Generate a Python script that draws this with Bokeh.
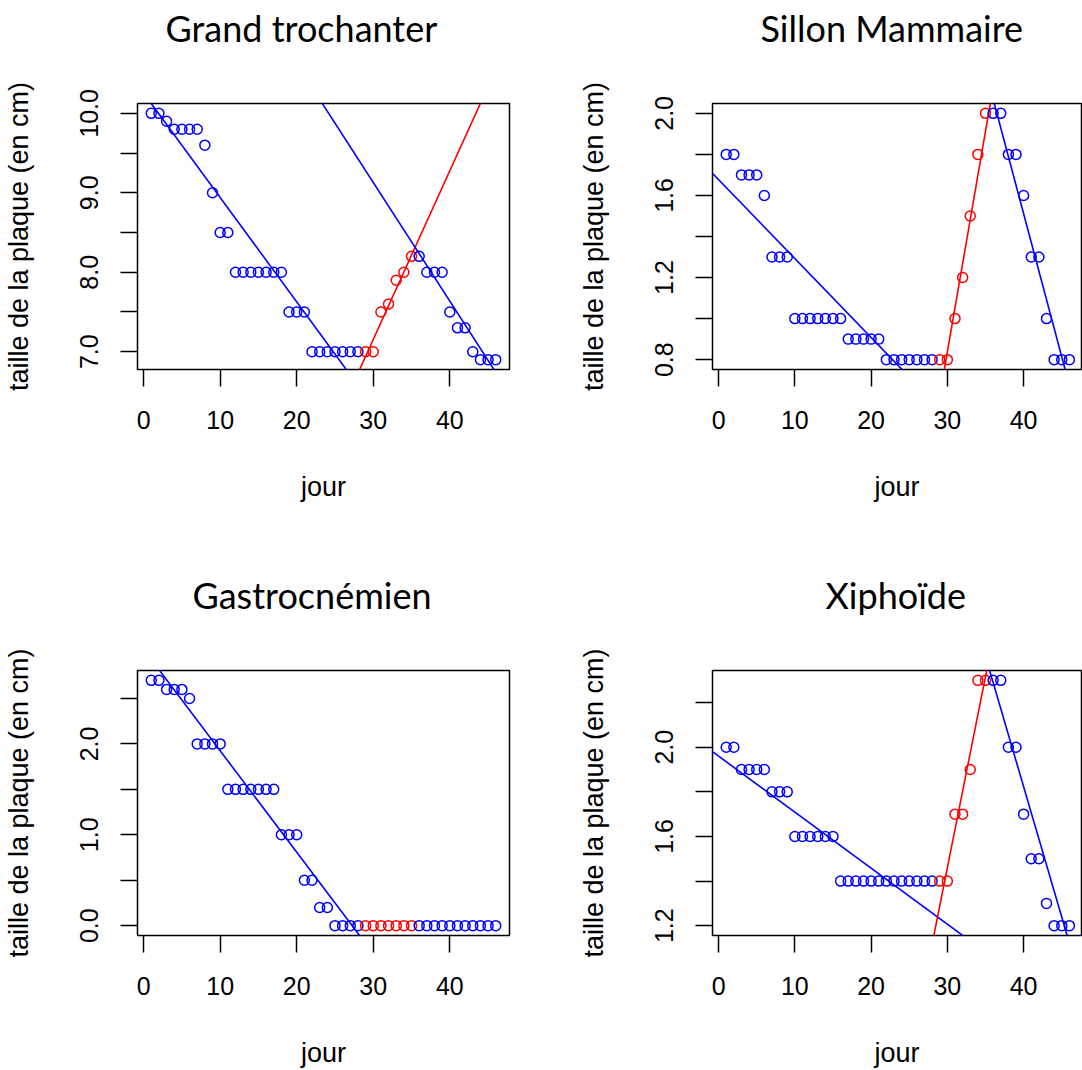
from bokeh.plotting import figure
from bokeh.models import Range1d, FixedTicker, PrintfTickFormatter, Title, ColumnDataSource
from bokeh.layouts import column, row
from bokeh.embed import file_html
from bokeh.resources import INLINE

# ---------------- data ----------------
jour = list(range(1, 47))
rouge_debut = 29
rouge_fin = 35

grand_trochanter = [10.0, 10.0, 9.9, 9.8, 9.8, 9.8, 9.8, 9.6, 9.0, 8.5, 8.5,
                    8.0, 8.0, 8.0, 8.0, 8.0, 8.0, 8.0, 7.5, 7.5, 7.5,
                    7.0, 7.0, 7.0, 7.0, 7.0, 7.0, 7.0,
                    7.0, 7.0, 7.5, 7.6, 7.9, 8.0, 8.2,
                    8.2, 8.0, 8.0, 8.0, 7.5, 7.3, 7.3, 7.0, 6.9, 6.9, 6.9]
sillon_mammaire = [1.8, 1.8, 1.7, 1.7, 1.7, 1.6, 1.3, 1.3, 1.3,
                   1.0, 1.0, 1.0, 1.0, 1.0, 1.0, 1.0,
                   0.9, 0.9, 0.9, 0.9, 0.9,
                   0.8, 0.8, 0.8, 0.8, 0.8, 0.8, 0.8,
                   0.8, 0.8, 1.0, 1.2, 1.5, 1.8, 2.0,
                   2.0, 2.0, 1.8, 1.8, 1.6, 1.3, 1.3, 1.0, 0.8, 0.8, 0.8]
gastrocnemien = [2.7, 2.7, 2.6, 2.6, 2.6, 2.5, 2.0, 2.0, 2.0, 2.0,
                 1.5, 1.5, 1.5, 1.5, 1.5, 1.5, 1.5,
                 1.0, 1.0, 1.0, 0.5, 0.5, 0.2, 0.2,
                 0.0, 0.0, 0.0, 0.0,
                 0.0, 0.0, 0.0, 0.0, 0.0, 0.0, 0.0,
                 0.0, 0.0, 0.0, 0.0, 0.0, 0.0, 0.0, 0.0, 0.0, 0.0, 0.0]
xiphoide = [2.0, 2.0, 1.9, 1.9, 1.9, 1.9, 1.8, 1.8, 1.8,
            1.6, 1.6, 1.6, 1.6, 1.6, 1.6,
            1.4, 1.4, 1.4, 1.4, 1.4, 1.4, 1.4, 1.4, 1.4, 1.4, 1.4, 1.4, 1.4,
            1.4, 1.4, 1.7, 1.7, 1.9, 2.3, 2.3,
            2.3, 2.3, 2.0, 2.0, 1.7, 1.5, 1.5, 1.3, 1.2, 1.2, 1.2]

# fitted lines: intercept, slope, colour
gt_ordonnees = [10.255, 0.785, 13.609]
gt_pentes = [-0.1314, 0.2123, -0.1493]
gt_couleurs = ["#0000FF", "#FF0000", "#0000FF"]
sm_ordonnees = [1.677, -5.609, 7.087]
sm_pentes = [-0.03845, 0.2149, -0.1394]
sm_couleurs = ["#0000FF", "#FF0000", "#0000FF"]
ga_ordonnees = [3.041]
ga_pentes = [-0.1116]
ga_couleurs = ["#0000FF"]
xi_ordonnees = [1.960, -3.682, 6.495]
xi_pentes = [-0.02511, 0.1714, -0.1168]
xi_couleurs = ["#0000FF", "#FF0000", "#0000FF"]

x_ticks = [0, 10, 20, 30, 40]
gt_yticks, gt_yminor, gt_yrange = [7, 8, 9, 10], [7.5, 8.5, 9.5], (6.776, 10.124)
sm_yticks, sm_yminor, sm_yrange = [0.8, 1.2, 1.6, 2.0], [1.0, 1.4, 1.8], (0.752, 2.048)
ga_yticks, ga_yminor, ga_yrange = [0, 1, 2], [0.5, 1.5, 2.5], (-0.108, 2.808)
xi_yticks, xi_yminor, xi_yrange = [1.2, 1.6, 2.0], [1.4, 1.8, 2.2], (1.156, 2.344)

BLEU = "#0000FF"
ROUGE = "#FF0000"
AX_FONT = "Liberation Sans"


def panneau(titre, valeurs, ordonnees, pentes, couleurs_l, yticks, yminor, yrange,
            width, height, b_left, b_right, b_top, b_bottom, x_end, t_offset):
    p = figure(width=width, height=height, output_backend="svg", toolbar_location=None,
               x_range=Range1d(-0.8, x_end), y_range=Range1d(*yrange),
               min_border_left=b_left, min_border_right=b_right,
               min_border_top=b_top, min_border_bottom=b_bottom,
               x_axis_label="jour", y_axis_label="taille de la plaque (en cm)")
    p.background_fill_color = "white"
    p.border_fill_color = "white"
    p.outline_line_color = "black"
    p.outline_line_width = 1.5
    p.xgrid.visible = False
    p.ygrid.visible = False

    # fitted straight lines (clipped to the frame)
    for a, b, c in zip(ordonnees, pentes, couleurs_l):
        xs = [-5.0, 55.0]
        ys = [a + b * xx for xx in xs]
        p.line(xs, ys, line_color=c, line_width=1.6)

    couleurs = [ROUGE if rouge_debut <= d <= rouge_fin else BLEU for d in jour]
    src = ColumnDataSource(dict(x=jour, y=valeurs, c=couleurs))
    p.scatter("x", "y", source=src, marker="circle", size=10, fill_color=None,
              line_color="c", line_width=1.5)

    p.xaxis.ticker = FixedTicker(ticks=x_ticks)
    p.yaxis.ticker = FixedTicker(ticks=yticks, minor_ticks=yminor)
    p.yaxis.formatter = PrintfTickFormatter(format="%.1f")
    for ax in (p.xaxis[0], p.yaxis[0]):
        ax.axis_line_color = None
        ax.major_tick_out = 17
        ax.major_tick_in = 0
        ax.minor_tick_out = 17
        ax.minor_tick_in = 0
        ax.major_tick_line_width = 1.5
        ax.minor_tick_line_width = 1.5
        ax.major_tick_line_color = "black"
        ax.minor_tick_line_color = "black"
        ax.major_label_text_font = AX_FONT
        ax.major_label_text_font_size = "25px"
        ax.major_label_text_color = "black"
        ax.axis_label_text_font = AX_FONT
        ax.axis_label_text_font_size = "27px"
        ax.axis_label_text_font_style = "normal"
        ax.axis_label_text_color = "black"
    p.xaxis.minor_tick_line_color = None
    p.xaxis.major_label_standoff = 24
    p.xaxis.axis_label_standoff = 40
    p.yaxis.major_label_orientation = "vertical"
    p.yaxis.major_label_standoff = 22
    p.yaxis.axis_label_standoff = 44

    p.add_layout(Title(text=" ", text_font_size="12px", standoff=38), "above")
    p.add_layout(Title(text=titre, text_font="Lato", text_font_size="36px",
                       text_font_style="normal", text_color="black",
                       align="left", offset=t_offset, standoff=0), "above")
    return p


p1 = panneau("Grand trochanter", grand_trochanter, gt_ordonnees, gt_pentes, gt_couleurs,
             gt_yticks, gt_yminor, gt_yrange, 541, 567, 137, 32, 103, 198, 47.8, 28)
p2 = panneau("Sillon Mammaire", sillon_mammaire, sm_ordonnees, sm_pentes, sm_couleurs,
             sm_yticks, sm_yminor, sm_yrange, 541, 567, 171, 1, 103, 198, 47.59, 48)
p3 = panneau("Gastrocnémien", gastrocnemien, ga_ordonnees, ga_pentes, ga_couleurs,
             ga_yticks, ga_yminor, ga_yrange, 541, 503, 137, 32, 103, 133, 47.8, 55)
p4 = panneau("Xiphoïde", xiphoide, xi_ordonnees, xi_pentes, xi_couleurs,
             xi_yticks, xi_yminor, xi_yrange, 541, 503, 171, 1, 103, 133, 47.59, 113)

layout = column(row(p1, p2), row(p3, p4))
open("out.html", "w").write(file_html(layout, INLINE))
